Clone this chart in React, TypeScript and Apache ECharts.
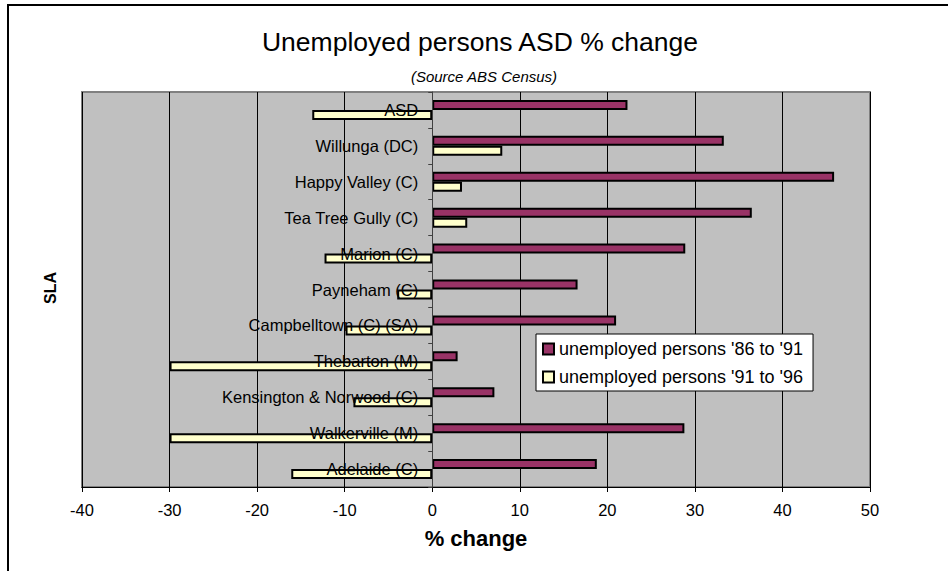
import React, { useEffect, useRef } from "react";
import * as echarts from "echarts";

// Statistical Local Areas, top to bottom
const categories = [
  "ASD",
  "Willunga (DC)",
  "Happy Valley (C)",
  "Tea Tree Gully (C)",
  "Marion (C)",
  "Payneham (C)",
  "Campbelltown (C) (SA)",
  "Thebarton (M)",
  "Kensington & Norwood (C)",
  "Walkerville (M)",
  "Adelaide (C)",
];

// % change in unemployed persons
const change86to91 = [22.3, 33.3, 45.9, 36.5, 28.9, 16.6, 21.0, 2.9, 7.1, 28.8, 18.8];
const change91to96 = [-13.7, 8.0, 3.4, 4.0, -12.3, -4.0, -9.9, -30.0, -9.0, -30.0, -16.1];

const seriesNames = ["unemployed persons '86 to '91", "unemployed persons '91 to '96"];
const xTicks = { min: -40, max: 50, interval: 10 };

const FONT = "'Liberation Sans', Arial, sans-serif";

const WIDTH = 948;
const HEIGHT = 571;
const GRID = { left: 82, right: 78, top: 92, bottom: 84 };

export default function App() {
  const ref = useRef<HTMLDivElement>(null);

  useEffect(() => {
    document.body.style.margin = "0";
    if (!ref.current) return;
    const chart = echarts.init(ref.current, undefined, { renderer: "svg" });

    // The category axis crosses the value axis at 0: shift it from the
    // grid's left edge by the share of the range that lies below zero.
    const plotWidth = WIDTH - GRID.left - GRID.right;
    const zeroOffset = -plotWidth * ((0 - xTicks.min) / (xTicks.max - xTicks.min));

    chart.setOption({
      animation: false,
      backgroundColor: "#ffffff",
      textStyle: { fontFamily: FONT },
      graphic: [
        {
          type: "rect",
          shape: { x: 8, y: 5, width: 1000, height: 700 },
          style: { fill: "none", stroke: "#000", lineWidth: 2 },
          silent: true,
        },
        {
          type: "text",
          x: 480,
          y: 42,
          style: {
            text: "Unemployed persons ASD % change",
            fontFamily: FONT,
            fontSize: 26.5,
            fill: "#000",
            textAlign: "center",
            textVerticalAlign: "middle",
          },
        },
        {
          type: "text",
          x: 484,
          y: 76,
          style: {
            text: "(Source ABS Census)",
            fontFamily: FONT,
            fontStyle: "italic",
            fontSize: 15,
            fill: "#000",
            textAlign: "center",
            textVerticalAlign: "middle",
          },
        },
        {
          type: "text",
          x: 50,
          y: 288,
          rotation: Math.PI / 2,
          style: {
            text: "SLA",
            fontFamily: FONT,
            fontWeight: "bold",
            fontSize: 16,
            fill: "#000",
            textAlign: "center",
            textVerticalAlign: "middle",
          },
        },
      ],
      grid: {
        ...GRID,
        outerBoundsMode: "none",
        containLabel: false,
        show: true,
        backgroundColor: "#C0C0C0",
        borderColor: "#808080",
        borderWidth: 2,
      },
      legend: {
        orient: "vertical",
        left: 536,
        top: 334,
        backgroundColor: "#ffffff",
        borderColor: "#000",
        borderWidth: 1,
        borderRadius: 0,
        padding: [6, 10, 5, 6],
        itemGap: 10,
        itemWidth: 11,
        itemHeight: 11,
        icon: "rect",
        textStyle: { fontFamily: FONT, fontSize: 18, color: "#000" },
        data: seriesNames,
      },
      xAxis: {
        type: "value",
        min: xTicks.min,
        max: xTicks.max,
        interval: xTicks.interval,
        name: "% change",
        nameLocation: "middle",
        nameGap: 40,
        nameTextStyle: { fontFamily: FONT, fontWeight: "bold", fontSize: 22, color: "#000" },
        axisLine: { show: true, lineStyle: { color: "#000", width: 1 } },
        axisTick: { show: true, length: 5, lineStyle: { color: "#000" } },
        axisLabel: { fontFamily: FONT, fontSize: 16.5, color: "#000", margin: 14 },
        splitLine: { show: true, lineStyle: { color: "#000", width: 1 } },
      },
      yAxis: {
        type: "category",
        inverse: true,
        data: categories,
        position: "left",
        offset: zeroOffset,
        z: 5,
        axisLine: { show: true, onZero: false, lineStyle: { color: "#404040", width: 1 } },
        axisTick: { show: true, length: 4, lineStyle: { color: "#404040" } },
        axisLabel: { fontFamily: FONT, fontSize: 16.5, color: "#000", margin: 14 },
        splitLine: { show: false },
      },
      series: [
        {
          name: seriesNames[0],
          type: "bar",
          data: change86to91,
          barWidth: 10,
          barGap: "0%",
          itemStyle: { color: "#993366", borderColor: "#000", borderWidth: 2 },
        },
        {
          name: seriesNames[1],
          type: "bar",
          data: change91to96,
          barWidth: 10,
          barGap: "0%",
          itemStyle: { color: "#FFFFCC", borderColor: "#000", borderWidth: 2 },
        },
      ],
    });
    return () => chart.dispose();
  }, []);

  return <div ref={ref} style={{ width: WIDTH, height: HEIGHT }} />;
}
